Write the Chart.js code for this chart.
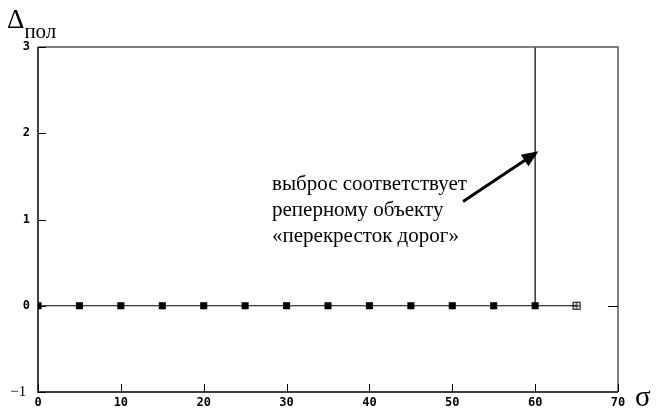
<!DOCTYPE html>
<html>
<head>
<meta charset="utf-8">
<script src="https://cdn.jsdelivr.net/npm/chart.js@4"></script>
<style>
  body { margin: 0; background: #fff; }
  #wrap { position: relative; width: 666px; height: 409px; }
  .lbl { position: absolute; font-family: "Liberation Serif", "Times New Roman", serif; color: #000; white-space: nowrap; }
</style>
</head>
<body>
<div id="wrap">
  <canvas id="chart"></canvas>
  <div class="lbl" style="left:7px; top:3px; font-size:27px; line-height:32px;">Δ<span style="font-size:21px; position:relative; top:10px;">пол</span></div>
  <div class="lbl" style="left:635px; top:380px; font-size:29px; line-height:32px;">σ</div>
  <div class="lbl" style="left:272px; top:170px; font-size:21px; line-height:26px;">выброс соответствует<br>реперному объекту<br>«перекресток дорог»</div>
</div>
<script>
// sigma values and Δпол values
const sigma = [0, 5, 10, 15, 20, 25, 30, 35, 40, 45, 50, 55, 60, 65];
const delta = [0, 0, 0, 0, 0, 0, 0, 0, 0, 0, 0, 0, 0, 0];
// outlier at sigma = 60 runs off the top of the plot
const spikeX = [60, 60];
const spikeY = [0, 3];
const xTicks = [0, 10, 20, 30, 40, 50, 60, 70];
const yTicks = [-1, 0, 1, 2, 3];
// arrow of the note, in data units
const arrowFrom = { x: 51.3, y: 1.21 };
const arrowTo = { x: 60.4, y: 1.79 };

// hollow square with a cross for the last point
const crossBox = document.createElement("canvas");
crossBox.width = 10; crossBox.height = 10;
{
  const c = crossBox.getContext("2d");
  c.strokeStyle = "#000";
  c.lineWidth = 1;
  c.strokeRect(1.5, 1.5, 7, 7);
  c.beginPath();
  c.moveTo(5, 1.5); c.lineTo(5, 8.5);
  c.moveTo(1.5, 5); c.lineTo(8.5, 5);
  c.stroke();
}

const framePlugin = {
  id: "frame",
  afterDatasetsDraw(chart) {
    const { ctx, chartArea: a, scales: { x, y } } = chart;
    ctx.save();
    // top and right border
    ctx.strokeStyle = "#555";
    ctx.lineWidth = 1.5;
    ctx.beginPath();
    ctx.moveTo(a.left, a.top); ctx.lineTo(a.right, a.top); ctx.lineTo(a.right, a.bottom);
    ctx.stroke();
    // left and bottom axis
    ctx.strokeStyle = "#000";
    ctx.beginPath();
    ctx.moveTo(a.left, a.top); ctx.lineTo(a.left, a.bottom); ctx.lineTo(a.right, a.bottom);
    ctx.stroke();
    // inward ticks
    ctx.lineWidth = 1;
    ctx.beginPath();
    xTicks.forEach(v => {
      const px = Math.round(x.getPixelForValue(v)) + 0.5;
      ctx.moveTo(px, a.bottom); ctx.lineTo(px, a.bottom - 8);
    });
    yTicks.forEach(v => {
      const py = Math.round(y.getPixelForValue(v)) + 0.5;
      ctx.moveTo(a.left, py); ctx.lineTo(a.left + 8, py);
    });
    const p0 = Math.round(y.getPixelForValue(0)) + 0.5;
    ctx.moveTo(a.right, p0); ctx.lineTo(a.right - 10, p0);
    ctx.stroke();
    // arrow of the note
    const x1 = x.getPixelForValue(arrowFrom.x), y1 = y.getPixelForValue(arrowFrom.y);
    const x2 = x.getPixelForValue(arrowTo.x), y2 = y.getPixelForValue(arrowTo.y);
    const ang = Math.atan2(y2 - y1, x2 - x1);
    const head = 18, half = 0.4;
    ctx.lineWidth = 3;
    ctx.beginPath();
    ctx.moveTo(x1, y1);
    ctx.lineTo(x2 - head * 0.8 * Math.cos(ang), y2 - head * 0.8 * Math.sin(ang));
    ctx.stroke();
    ctx.fillStyle = "#000";
    ctx.beginPath();
    ctx.moveTo(x2, y2);
    ctx.lineTo(x2 - head * Math.cos(ang - half), y2 - head * Math.sin(ang - half));
    ctx.lineTo(x2 - head * Math.cos(ang + half), y2 - head * Math.sin(ang + half));
    ctx.closePath();
    ctx.fill();
    ctx.restore();
  }
};

const tickFont = ctx => ctx.tick && ctx.tick.value === -1
  ? { family: "Liberation Serif", size: 15, weight: "normal" }
  : { family: "DejaVu Sans Mono", size: 12, weight: "bold" };

new Chart(document.getElementById("chart"), {
  type: "scatter",
  data: {
    datasets: [
      {
        data: sigma.map((s, i) => ({ x: s, y: delta[i] })),
        showLine: true,
        borderColor: "#000",
        borderWidth: 1,
        backgroundColor: "#000",
        pointStyle: sigma.map((s, i) => i === sigma.length - 1 ? crossBox : "rect"),
        pointRadius: 5,
        pointBorderWidth: 0
      },
      {
        data: spikeX.map((s, i) => ({ x: s, y: spikeY[i] })),
        showLine: true,
        borderColor: "#000",
        borderWidth: 1.2,
        pointRadius: 0
      }
    ]
  },
  options: {
    responsive: true,
    maintainAspectRatio: false,
    animation: false,
    layout: { padding: { left: 0, right: 48, top: 47, bottom: 0 } },
    plugins: { legend: { display: false }, tooltip: { enabled: false } },
    scales: {
      x: {
        type: "linear",
        min: 0, max: 70,
        afterFit: s => { s.height = 17; },
        afterBuildTicks: s => { s.ticks = xTicks.map(v => ({ value: v })); },
        grid: { display: false, drawTicks: false },
        border: { display: false },
        ticks: { color: "#000", padding: 4, font: tickFont, maxRotation: 0 }
      },
      y: {
        type: "linear",
        min: -1, max: 3,
        afterFit: s => { s.width = 38; },
        afterBuildTicks: s => { s.ticks = yTicks.map(v => ({ value: v })); },
        grid: { display: false, drawTicks: false },
        border: { display: false },
        ticks: {
          color: "#000", padding: 8, font: tickFont,
          callback: v => v === -1 ? "\u22121 " : String(v)
        }
      }
    }
  },
  plugins: [framePlugin]
});
</script>
</body>
</html>
